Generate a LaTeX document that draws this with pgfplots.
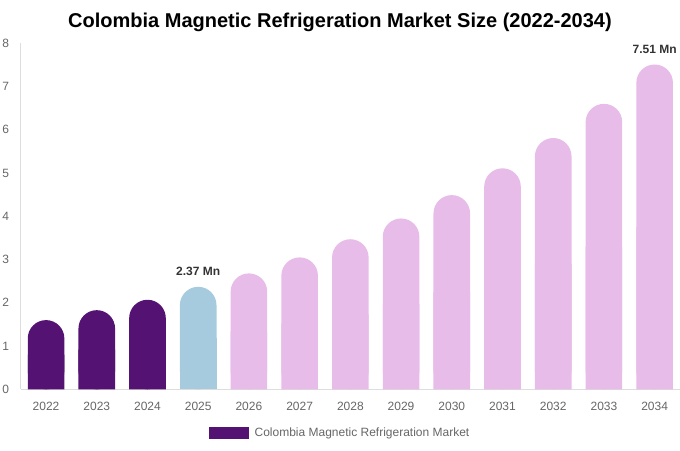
\documentclass[border=0pt]{standalone}
\usepackage{pgfplots}
\pgfplotsset{compat=1.18}
\usepackage{pgfplotstable}
\usepackage{fontspec}
\setmainfont{Liberation Sans}

\definecolor{histc}{HTML}{541273}
\definecolor{basec}{HTML}{A6CBDF}
\definecolor{forec}{HTML}{E7BCE8}
\definecolor{tickc}{HTML}{666666}
\definecolor{labc}{HTML}{333333}
\definecolor{axc}{HTML}{DDDDDD}

% market size, Mn
\pgfplotstableread{
x v
0 1.60
1 1.83
2 2.07
}\histdata
\pgfplotstableread{
x v
3 2.37
}\basedata
\pgfplotstableread{
x v
4 2.68
5 3.05
6 3.47
7 3.95
8 4.49
9 5.11
10 5.81
11 6.60
12 7.51
}\foredata

\begin{document}
\begin{tikzpicture}
\useasboundingbox (-20.7pt,-60.7pt) rectangle (659.3pt,389.3pt);
\begin{axis}[
  at={(0,0)}, anchor=south west,
  scale only axis, width=659.3pt, height=346pt,
  xmin=-0.5, xmax=12.5, ymin=0, ymax=8,
  axis x line=bottom, axis y line=left,
  axis line style={draw=axc, line width=0.8pt, -},
  xtick={0,1,2,3,4,5,6,7,8,9,10,11,12},
  xticklabels={2022,2023,2024,2025,2026,2027,2028,2029,2030,2031,2032,2033,2034},
  ytick={0,1,2,3,4,5,6,7,8},
  major tick length=0pt,
  tick label style={font=\fontsize{12}{14}\selectfont, text=tickc},
  xticklabel style={yshift=-9pt},
  yticklabel style={xshift=-8pt},
  /pgf/number format/assume math mode=true,
  title={Colombia Magnetic Refrigeration Market Size (2022-2034)},
  title style={font=\fontsize{20}{24}\selectfont\bfseries, at={(0.4843,1)}, anchor=center, yshift=15pt},
  legend style={at={(0.4843,-0.1263)}, anchor=center, draw=none, fill=none,
    font=\fontsize{12}{14}\selectfont, text=tickc},
  legend image code/.code={\fill[#1, sharp corners] (0pt,-6pt) rectangle (40pt,6pt); \path (44pt,0pt);},
  bar width=36.6pt,
  clip=false,
]
% rounded bars
\addplot[ybar, bar shift=0pt, fill=histc, draw=none, rounded corners=18.3pt] table[x=x,y=v]{\histdata};
\addlegendentry{Colombia Magnetic Refrigeration Market}
\addplot[ybar, bar shift=0pt, fill=basec, draw=none, rounded corners=18.3pt, forget plot] table[x=x,y=v]{\basedata};
\addplot[ybar, bar shift=0pt, fill=forec, draw=none, rounded corners=18.3pt, forget plot] table[x=x,y=v]{\foredata};
% square off the bottoms
\addplot[ybar, bar shift=0pt, fill=histc, draw=none, forget plot] table[x=x,y expr=\thisrow{v}/2]{\histdata};
\addplot[ybar, bar shift=0pt, fill=basec, draw=none, forget plot] table[x=x,y expr=\thisrow{v}/2]{\basedata};
\addplot[ybar, bar shift=0pt, fill=forec, draw=none, forget plot] table[x=x,y expr=\thisrow{v}/2]{\foredata};
% value labels
\addplot[draw=none, mark=none, forget plot, nodes near coords, point meta=explicit symbolic,
  nodes near coords style={font=\fontsize{12}{14}\selectfont\bfseries, text=labc,
    anchor=south, inner sep=0pt, yshift=11pt}]
  coordinates {(3,2.37)[2.37 Mn] (12,7.51)[7.51 Mn]};
\end{axis}
\end{tikzpicture}
\end{document}
